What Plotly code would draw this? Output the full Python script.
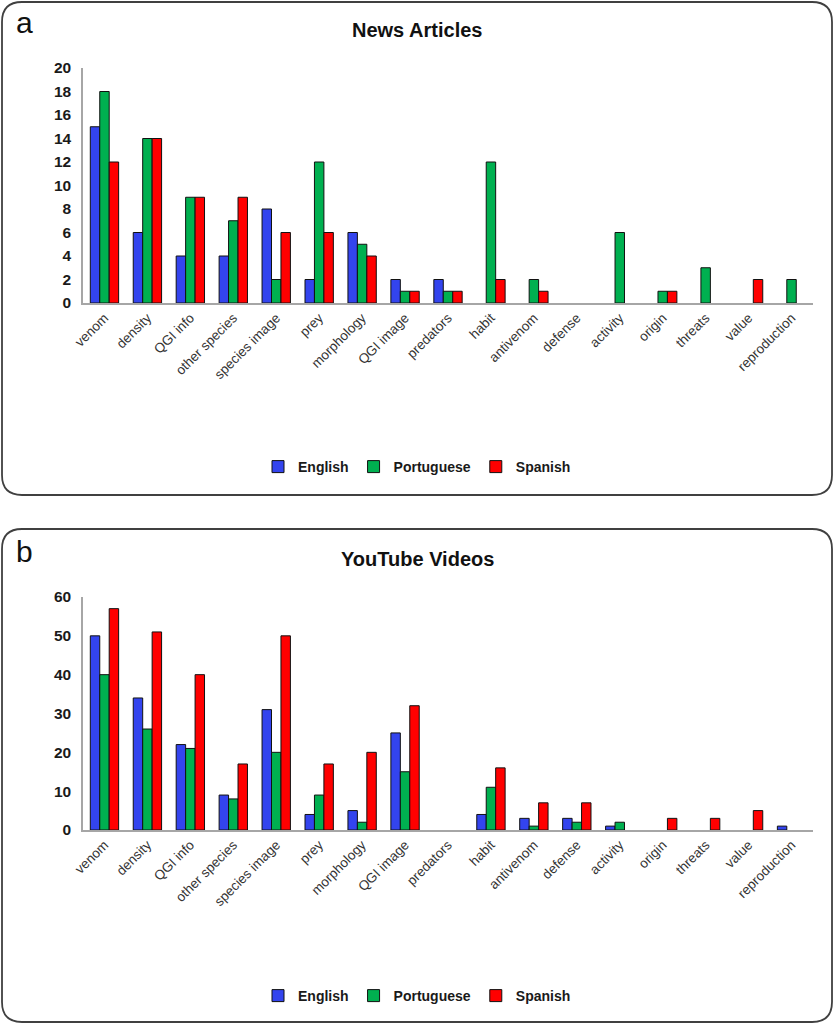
import plotly.graph_objects as go

W, H = 834, 1024

categories = ["venom", "density", "QGI info", "other species", "species image", "prey",
              "morphology", "QGI image", "predators", "habit", "antivenom", "defense",
              "activity", "origin", "threats", "value", "reproduction"]

# a - news articles
news_english = [15, 6, 4, 4, 8, 2, 6, 2, 2, 0, 0, 0, 0, 0, 0, 0, 0]
news_portuguese = [18, 14, 9, 7, 2, 12, 5, 1, 1, 12, 2, 0, 6, 1, 3, 0, 2]
news_spanish = [12, 14, 9, 9, 6, 6, 4, 1, 1, 2, 1, 0, 0, 1, 0, 2, 0]

# b - youtube videos
yt_english = [50, 34, 22, 9, 31, 4, 5, 25, 0, 4, 3, 3, 1, 0, 0, 0, 1]
yt_portuguese = [40, 26, 21, 8, 20, 9, 2, 15, 0, 11, 1, 2, 2, 0, 0, 0, 0]
yt_spanish = [57, 51, 40, 17, 50, 17, 20, 32, 0, 16, 7, 7, 0, 3, 3, 5, 0]

languages = ["English", "Portuguese", "Spanish"]
colors = ["#3344EE", "#00B050", "#FF0000"]

FONT = "Liberation Sans, Arial, sans-serif"


def nz(vals):
    # excel draws nothing for zero bars
    return [v if v != 0 else None for v in vals]


fig = go.Figure()

panels = [
    ("x", "y", "legend", [news_english, news_portuguese, news_spanish]),
    ("x2", "y2", "legend2", [yt_english, yt_portuguese, yt_spanish]),
]
for xa, ya, leg, series in panels:
    for name, col, vals in zip(languages, colors, series):
        fig.add_trace(go.Bar(
            x=categories, y=nz(vals), name=name, xaxis=xa, yaxis=ya, legend=leg,
            marker=dict(color=col, line=dict(color="#111111", width=1)),
        ))


def px_x(p):
    return p / W


def px_y(p):
    return 1 - p / H


xdom = [px_x(83), px_x(813)]
axis_common = dict(showgrid=False, zeroline=False, showline=True, linecolor="#A6A6A6",
                   linewidth=1.5, ticks="", automargin=False)
xfont = dict(family=FONT, size=13.5, color="#333333")
yfont = dict(family=FONT, size=15.5, color="#1A1A1A", weight="bold")
lfont = dict(family=FONT, size=14, color="#1A1A1A", weight="bold")

fig.update_layout(
    width=W, height=H,
    margin=dict(l=0, r=0, t=0, b=0, autoexpand=False),
    paper_bgcolor="white", plot_bgcolor="white",
    barmode="group", bargap=0.34, bargroupgap=0,
    showlegend=True,
    xaxis=dict(domain=xdom, anchor="y", tickangle=-45, tickfont=xfont, **axis_common),
    yaxis=dict(domain=[px_y(303), px_y(68)], anchor="x", range=[0, 20], dtick=2,
               tickfont=yfont, ticklabelstandoff=7, **axis_common),
    xaxis2=dict(domain=xdom, anchor="y2", tickangle=-45, tickfont=xfont, **axis_common),
    yaxis2=dict(domain=[px_y(830), px_y(597)], anchor="x2", range=[0, 60], dtick=10,
                tickfont=yfont, ticklabelstandoff=7, **axis_common),
    legend=dict(orientation="h", x=0.5, xanchor="center", y=px_y(467), yanchor="middle",
                font=lfont, itemwidth=30, bgcolor="rgba(0,0,0,0)"),
    legend2=dict(orientation="h", x=0.5, xanchor="center", y=px_y(996), yanchor="middle",
                 font=lfont, itemwidth=30, bgcolor="rgba(0,0,0,0)"),
)


def rounded_box(x0, y0, x1, y1, r):
    # pixel box -> paper path with rounded corners
    rx, ry = r / W, r / H
    X0, X1 = px_x(x0), px_x(x1)
    Yt, Yb = px_y(y0), px_y(y1)
    return (f"M {X0 + rx},{Yt} L {X1 - rx},{Yt} Q {X1},{Yt} {X1},{Yt - ry} "
            f"L {X1},{Yb + ry} Q {X1},{Yb} {X1 - rx},{Yb} "
            f"L {X0 + rx},{Yb} Q {X0},{Yb} {X0},{Yb + ry} "
            f"L {X0},{Yt - ry} Q {X0},{Yt} {X0 + rx},{Yt} Z")


for top, bot in [(2, 495), (529, 1022)]:
    fig.add_shape(type="path", xref="paper", yref="paper",
                  path=rounded_box(2, top, 832, bot, 20),
                  line=dict(color="#404040", width=1.8), layer="below")

annots = [
    ("a", 24, 22, 30, "normal"), ("b", 24, 551, 30, "normal"),
    ("News Articles", 417, 30, 20, "bold"), ("YouTube Videos", 417, 559, 20, "bold"),
]
for txt, ax, ay, size, wt in annots:
    fig.add_annotation(text=txt, x=px_x(ax), y=px_y(ay), xref="paper", yref="paper",
                       showarrow=False, xanchor="center", yanchor="middle",
                       font=dict(family=FONT, size=size, color="#111111", weight=wt))

# page margin would push the figure off the window
fig.write_html("out.html", config={"displayModeBar": False},
               post_script="document.body.style.margin='0';")
